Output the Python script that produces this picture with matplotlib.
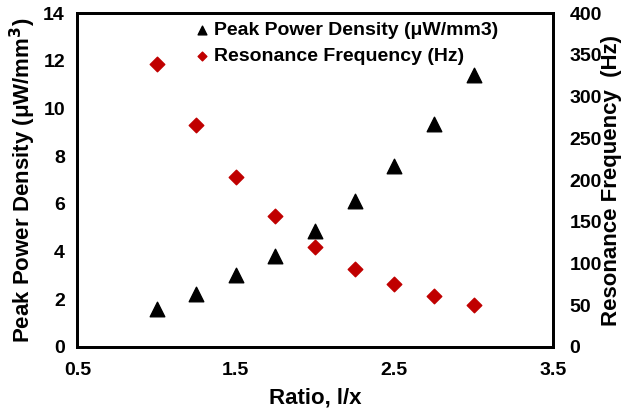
import matplotlib
matplotlib.use('Agg')
from matplotlib import pyplot as plt

plt.rcParams['font.family'] = ['Liberation Sans', 'DejaVu Sans']
plt.rcParams['font.weight'] = 'bold'

ratio = [1.0, 1.25, 1.5, 1.75, 2.0, 2.25, 2.5, 2.75, 3.0]
power_density = [1.6, 2.2, 3.0, 3.8, 4.85, 6.1, 7.6, 9.35, 11.4]
res_freq = [339, 266, 204, 157, 120, 93, 75, 61, 50]

fig, ax = plt.subplots(figsize=(6.24, 4.12), dpi=100)
fig.subplots_adjust(left=0.124, right=0.886, top=0.968, bottom=0.158)
ax2 = ax.twinx()

l1 = ax.scatter(ratio, power_density, marker='^', s=110, color='black',
                label='Peak Power Density (μW/mm3)', zorder=3)
l2 = ax2.scatter(ratio, res_freq, marker='D', s=55, color='#c00000',
                 label='Resonance Frequency (Hz)', zorder=3)

ax.set_xlim(0.5, 3.5)
ax.set_ylim(0, 14)
ax2.set_ylim(0, 400)
ax.set_xticks([0.5, 1.5, 2.5, 3.5])
ax.set_yticks(range(0, 15, 2))
ax2.set_yticks(range(0, 401, 50))

ax.tick_params(axis='x', length=0, labelsize=14, pad=11)
ax.tick_params(axis='y', length=0, labelsize=14, pad=9)
ax2.tick_params(axis='y', length=0, labelsize=14, pad=12)
for a in (ax, ax2):
    for sp in a.spines.values():
        sp.set_linewidth(2)
for lab in ax.get_xticklabels() + ax.get_yticklabels() + ax2.get_yticklabels():
    lab.set_fontweight('bold')

ax.set_xlabel('Ratio, l/x', fontsize=16, fontweight='bold', labelpad=6)
ax.set_ylabel('Peak Power Density (μW/mm$^\\mathbf{3}$)', fontsize=16,
              fontweight='bold', labelpad=4)
ax2.set_ylabel('Resonance Frequency  (Hz)', fontsize=16, fontweight='bold',
               labelpad=-1)

leg = ax.legend(handles=[l1, l2], loc='upper right', frameon=False,
                prop={'size': 14, 'weight': 'bold'}, handletextpad=0.2,
                handlelength=0.8, markerscale=0.6, borderaxespad=0,
                borderpad=0, labelspacing=0.45,
                bbox_to_anchor=(0.885, 0.976))

fig.savefig('out.png', dpi=100)
